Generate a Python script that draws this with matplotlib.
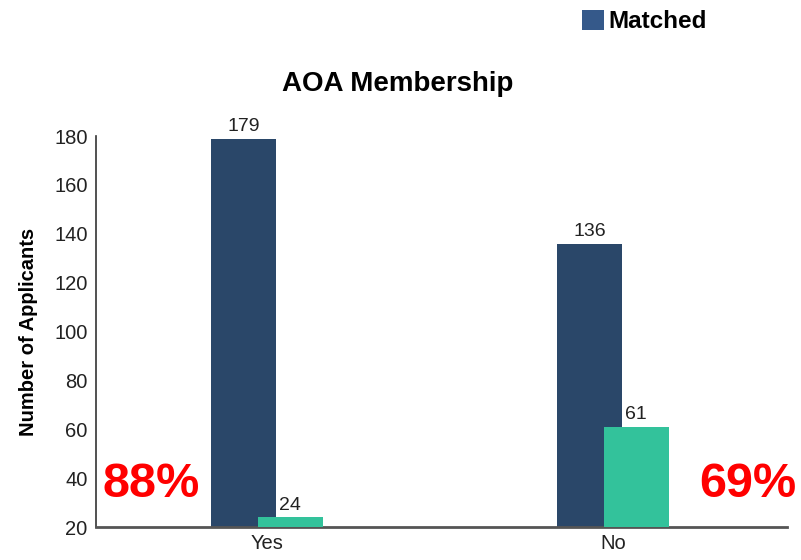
import numpy as np
import matplotlib.pyplot as plt

plt.rcParams['font.family'] = ['Liberation Sans', 'DejaVu Sans']

categories = ["Yes", "No"]
matched = [179, 136]
unmatched = [24, 61]
pct_labels = ["88%", "69%"]

navy = "#2a4769"
green = "#33c29b"

fig = plt.figure(figsize=(8.01, 5.6), dpi=100)
ax = fig.add_axes([0.1199, 0.0589, 0.8626, 0.698])

x = np.arange(len(categories))
w = 0.188
off = 0.067
b1 = ax.bar(x - off, np.array(matched) - 20, w, bottom=20, color=navy, label="Matched", zorder=2)
b2 = ax.bar(x + off, np.array(unmatched) - 20, w, bottom=20, color=green, zorder=3)

for xi, v in zip(x, matched):
    ax.text(xi - off, v + 1.5, str(v), ha="center", va="bottom", fontsize=14, color="#222222")
for xi, v in zip(x, unmatched):
    ax.text(xi + off, v + 1.5, str(v), ha="center", va="bottom", fontsize=14, color="#222222")

ax.set_xlim(-0.494, 1.503)
ax.set_ylim(20, 180)
ax.set_yticks(range(20, 181, 20))
ax.set_xticks(x)
ax.set_xticklabels(categories)
ax.tick_params(length=0, labelsize=14.5, colors="#222222")
ax.tick_params(axis="x", pad=5)
ax.tick_params(axis="y", pad=6)
for s in ["top", "right"]:
    ax.spines[s].set_visible(False)
ax.spines["left"].set_color("#333333")
ax.spines["left"].set_linewidth(1.2)
ax.spines["bottom"].set_color("#555555")
ax.spines["bottom"].set_linewidth(2)
ax.set_ylabel("Number of Applicants", fontsize=14.5, fontweight="bold", labelpad=12)

fig.text(0.496, 0.85, "AOA Membership", ha="center", va="center", fontsize=20, fontweight="bold")

ax.text(0.01, 0.11, pct_labels[0], transform=ax.transAxes, ha="left", va="center",
        fontsize=35, fontweight="bold", color="#ff0000")
ax.text(1.014, 0.11, pct_labels[1], transform=ax.transAxes, ha="right", va="center",
        fontsize=35, fontweight="bold", color="#ff0000")

# legend only lists the matched series
leg = fig.legend(handles=[b1], labels=["Matched"], loc="center left",
                 bbox_to_anchor=(0.699, 0.962), frameon=False,
                 prop={"size": 17.5, "weight": "bold"}, handlelength=0.9,
                 handleheight=0.9, handletextpad=0.2)
leg.get_patches()[0].set_facecolor("#35598a")

fig.savefig("out.png", dpi=100)
